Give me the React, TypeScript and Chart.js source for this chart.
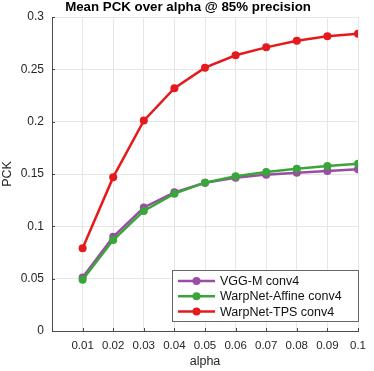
import React, { useEffect, useRef } from "react";
import { Chart, registerables } from "chart.js";

Chart.register(...registerables);

const alphas = [0.01, 0.02, 0.03, 0.04, 0.05, 0.06, 0.07, 0.08, 0.09, 0.1];
const vggM = [0.051, 0.090, 0.118, 0.1325, 0.1417, 0.1465, 0.1494, 0.1513, 0.1529, 0.1545];
const warpAffine = [0.049, 0.0869, 0.1147, 0.1312, 0.1417, 0.1478, 0.152, 0.155, 0.1576, 0.1598];
const warpTPS = [0.079, 0.147, 0.201, 0.232, 0.2516, 0.2634, 0.271, 0.2774, 0.2815, 0.284];
const seriesNames = ["VGG-M conv4", "WarpNet-Affine conv4", "WarpNet-TPS conv4"];
const colors = ["#984ea3", "#3aa53a", "#e41a1c"];
const titleText = "Mean PCK over alpha @ 85% precision";
const FONT = "'Liberation Sans', Arial, sans-serif";

const fmt = (v: number) => String(parseFloat(v.toFixed(2)));

const titlePlugin = {
  id: "topTitle",
  afterDraw(chart: any) {
    const { ctx } = chart;
    ctx.save();
    ctx.font = `bold 13.3px ${FONT}`;
    ctx.fillStyle = "#000000";
    ctx.textAlign = "center";
    ctx.textBaseline = "middle";
    ctx.fillText(titleText, 188, 7);
    ctx.restore();
  },
};

const legendPlugin = {
  id: "insideLegend",
  afterDatasetsDraw(chart: any) {
    const { ctx, chartArea } = chart;
    const left = 172;
    const right = chartArea.right + 1;
    const top = 270;
    const bottom = 322;
    ctx.save();
    ctx.fillStyle = "#ffffff";
    ctx.fillRect(left, top, right - left, bottom - top);
    ctx.strokeStyle = "#666666";
    ctx.lineWidth = 1;
    ctx.strokeRect(left + 0.5, top + 0.5, right - left - 1, bottom - top - 1);
    ctx.font = `12.5px ${FONT}`;
    ctx.textBaseline = "middle";
    chart.data.datasets.forEach((ds: any, i: number) => {
      const y = top + 11 + i * 15.3;
      ctx.strokeStyle = ds.borderColor;
      ctx.lineWidth = 2.5;
      ctx.beginPath();
      ctx.moveTo(178, y);
      ctx.lineTo(215, y);
      ctx.stroke();
      ctx.fillStyle = ds.borderColor;
      ctx.beginPath();
      ctx.arc(196.5, y, 4, 0, Math.PI * 2);
      ctx.fill();
      ctx.fillStyle = "#111111";
      ctx.fillText(ds.label, 220, y + 0.5);
    });
    ctx.restore();
  },
};

const tickPlugin = {
  id: "innerTicks",
  afterDraw(chart: any) {
    const { ctx, chartArea, scales } = chart;
    ctx.save();
    ctx.strokeStyle = "#444444";
    ctx.lineWidth = 1;
    ctx.beginPath();
    scales.x.ticks.forEach((t: any) => {
      const x = Math.round(scales.x.getPixelForValue(t.value)) + 0.5;
      ctx.moveTo(x, chartArea.bottom);
      ctx.lineTo(x, chartArea.bottom - 3);
    });
    scales.y.ticks.forEach((t: any) => {
      const y = Math.round(scales.y.getPixelForValue(t.value)) + 0.5;
      ctx.moveTo(chartArea.left, y);
      ctx.lineTo(chartArea.left + 3, y);
    });
    ctx.stroke();
    ctx.restore();
  },
};

export default function App() {
  const ref = useRef<HTMLCanvasElement>(null);
  useEffect(() => {
    document.body.style.margin = "0";
    const series = [vggM, warpAffine, warpTPS];
    const chart = new Chart(ref.current!, {
      type: "line",
      data: {
        datasets: series.map((vals, i) => ({
          label: seriesNames[i],
          data: alphas.map((a, j) => ({ x: a, y: vals[j] })),
          borderColor: colors[i],
          backgroundColor: colors[i],
          borderWidth: 2.5,
          pointRadius: 4,
          pointBorderWidth: 0,
          pointBackgroundColor: colors[i],
          order: 3 - i,
          tension: 0,
        })),
      },
      options: {
        animation: false,
        responsive: false,
        devicePixelRatio: 1,
        layout: { autoPadding: false, padding: { left: 0, right: 7, top: 17, bottom: 0 } },
        plugins: {
          legend: { display: false },
          tooltip: { enabled: false },
          title: { display: false },
        },
        scales: {
          x: {
            type: "linear",
            min: 0,
            max: 0.1,
            afterFit(s: any) { s.height = 40; },
            ticks: {
              stepSize: 0.01,
              maxRotation: 0,
              autoSkip: false,
              padding: 8,
              color: "#262626",
              font: { family: FONT, size: 11.5 },
              callback: (v: any) => (Math.abs(v) < 1e-9 ? "" : fmt(v)),
            },
            grid: { color: "#e6e6e6", drawTicks: false },
            border: { color: "#4d4d4d", width: 1 },
            title: {
              display: true,
              text: "alpha",
              color: "#262626",
              font: { family: FONT, size: 12.5 },
              padding: { top: 0, bottom: 2 },
            },
          },
          y: {
            type: "linear",
            min: 0,
            max: 0.3,
            afterFit(s: any) { s.width = 52; },
            ticks: {
              stepSize: 0.05,
              padding: 8,
              color: "#262626",
              font: { family: FONT, size: 12 },
              callback: (v: any) => fmt(v),
            },
            grid: { color: "#e6e6e6", drawTicks: false },
            border: { color: "#4d4d4d", width: 1 },
            title: {
              display: true,
              text: "PCK",
              color: "#262626",
              font: { family: FONT, size: 12.5 },
              padding: { top: 0, bottom: 0 },
            },
          },
        },
      },
      plugins: [legendPlugin, tickPlugin, titlePlugin],
    });
    return () => chart.destroy();
  }, []);
  return (
    <div style={{ position: "absolute", left: 0, top: 0, width: 374, height: 371 }}>
      <canvas ref={ref} width={374} height={371} style={{ width: 374, height: 371, display: "block" }} />
    </div>
  );
}
